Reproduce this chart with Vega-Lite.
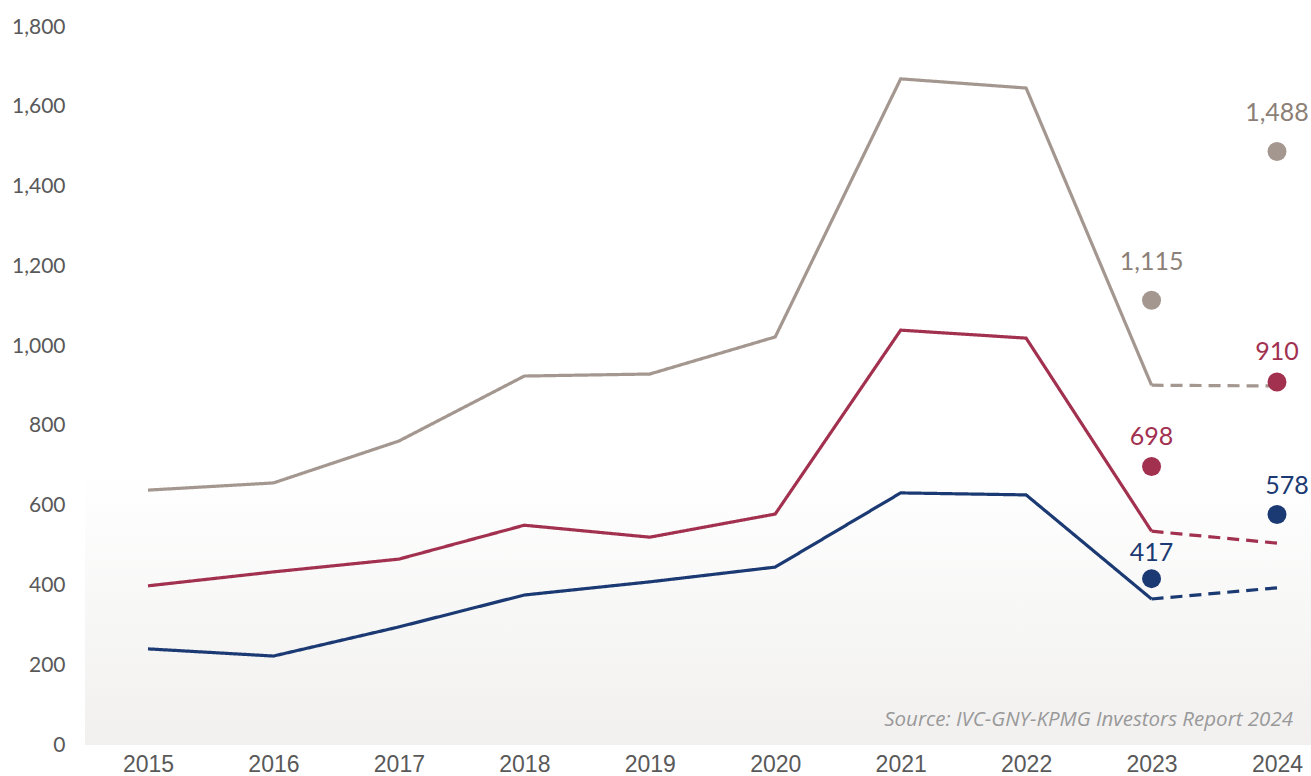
{
  "$schema": "https://vega.github.io/schema/vega-lite/v6.json",
  "width": 1226,
  "height": 718,
  "autosize": "none",
  "padding": {"left": 85, "top": 27, "right": 0, "bottom": 31},
  "background": "#ffffff",
  "config": {
    "view": {"stroke": null, "fill": {"gradient": "linear", "x1": 0, "y1": 0, "x2": 0, "y2": 1, "stops": [{"offset": 0, "color": "#ffffff"}, {"offset": 0.62, "color": "#ffffff"}, {"offset": 1, "color": "#f1f0ef"}]}},
    "axis": {"grid": false, "domain": false, "ticks": false}
  },
  "datasets": {
    "lines": [
      {"series": "total", "year": "2015", "value": 639, "seg": "actual"},
      {"series": "total", "year": "2016", "value": 657, "seg": "actual"},
      {"series": "total", "year": "2017", "value": 762, "seg": "actual"},
      {"series": "total", "year": "2018", "value": 925, "seg": "actual"},
      {"series": "total", "year": "2019", "value": 930, "seg": "actual"},
      {"series": "total", "year": "2020", "value": 1023, "seg": "actual"},
      {"series": "total", "year": "2021", "value": 1670, "seg": "actual"},
      {"series": "total", "year": "2022", "value": 1647, "seg": "actual"},
      {"series": "total", "year": "2023", "value": 902, "seg": "actual"},
      {"series": "total", "year": "2023", "value": 902, "seg": "forecast"},
      {"series": "total", "year": "2024", "value": 900, "seg": "forecast"},
      {"series": "mid", "year": "2015", "value": 399, "seg": "actual"},
      {"series": "mid", "year": "2016", "value": 434, "seg": "actual"},
      {"series": "mid", "year": "2017", "value": 466, "seg": "actual"},
      {"series": "mid", "year": "2018", "value": 551, "seg": "actual"},
      {"series": "mid", "year": "2019", "value": 521, "seg": "actual"},
      {"series": "mid", "year": "2020", "value": 579, "seg": "actual"},
      {"series": "mid", "year": "2021", "value": 1040, "seg": "actual"},
      {"series": "mid", "year": "2022", "value": 1020, "seg": "actual"},
      {"series": "mid", "year": "2023", "value": 536, "seg": "actual"},
      {"series": "mid", "year": "2023", "value": 536, "seg": "forecast"},
      {"series": "mid", "year": "2024", "value": 506, "seg": "forecast"},
      {"series": "low", "year": "2015", "value": 241, "seg": "actual"},
      {"series": "low", "year": "2016", "value": 223, "seg": "actual"},
      {"series": "low", "year": "2017", "value": 296, "seg": "actual"},
      {"series": "low", "year": "2018", "value": 376, "seg": "actual"},
      {"series": "low", "year": "2019", "value": 409, "seg": "actual"},
      {"series": "low", "year": "2020", "value": 446, "seg": "actual"},
      {"series": "low", "year": "2021", "value": 632, "seg": "actual"},
      {"series": "low", "year": "2022", "value": 627, "seg": "actual"},
      {"series": "low", "year": "2023", "value": 366, "seg": "actual"},
      {"series": "low", "year": "2023", "value": 366, "seg": "forecast"},
      {"series": "low", "year": "2024", "value": 394, "seg": "forecast"}
    ],
    "points": [
      {"series": "total", "year": "2023", "value": 1115, "label": "1,115"},
      {"series": "total", "year": "2024", "value": 1488, "label": "1,488"},
      {"series": "mid", "year": "2023", "value": 698, "label": "698"},
      {"series": "mid", "year": "2024", "value": 910, "label": "910"},
      {"series": "low", "year": "2023", "value": 417, "label": "417"},
      {"series": "low", "year": "2024", "value": 578, "label": "578"}
    ],
    "source": [
      {"year": "2024", "value": 63, "label": "Source: IVC-GNY-KPMG Investors Report 2024"}
    ]
  },
  "encoding": {
    "x": {
      "field": "year", "type": "ordinal",
      "scale": {"type": "point", "domain": ["2015","2016","2017","2018","2019","2020","2021","2022","2023","2024"], "range": [63, 1192], "padding": 0},
      "axis": {"title": null, "labelAngle": 0, "labelFont": "Liberation Sans", "labelFontSize": 23, "labelColor": "#595959", "labelPadding": 8}
    },
    "y": {
      "field": "value", "type": "quantitative",
      "scale": {"domain": [0, 1800], "nice": false, "zero": true},
      "axis": {"title": null, "values": [0,200,400,600,800,1000,1200,1400,1600,1800], "format": ",d", "labelFont": "Lato", "labelFontSize": 21, "labelColor": "#595959", "labelPadding": 20}
    }
  },
  "layer": [
    {
      "data": {"name": "lines"},
      "mark": {"type": "line", "strokeWidth": 3.2},
      "encoding": {
        "color": {"field": "series", "type": "nominal", "scale": {"domain": ["total","mid","low"], "range": ["#a3978f","#a2304f","#1b3972"]}, "legend": null},
        "strokeDash": {"field": "seg", "type": "nominal", "scale": {"domain": ["actual","forecast"], "range": [[1,0],[12,7]]}, "legend": null},
        "detail": {"field": "seg"}
      }
    },
    {
      "data": {"name": "points"},
      "mark": {"type": "circle", "size": 360, "opacity": 1},
      "encoding": {
        "color": {"field": "series", "type": "nominal", "scale": {"domain": ["total","mid","low"], "range": ["#a3978f","#a2304f","#1b3972"]}, "legend": null}
      }
    },
    {
      "data": {"name": "points"},
      "transform": [{"filter": "datum.series === 'total'"}],
      "mark": {"type": "text", "font": "Lato", "fontSize": 25, "dy": -38, "baseline": "middle", "align": "center", "color": "#8c7f77"},
      "encoding": {"text": {"field": "label"}}
    },
    {
      "data": {"name": "points"},
      "transform": [{"filter": "datum.series === 'mid'"}],
      "mark": {"type": "text", "font": "Lato", "fontSize": 25, "dy": -30, "baseline": "middle", "align": "center", "color": "#a2304f"},
      "encoding": {"text": {"field": "label"}}
    },
    {
      "data": {"name": "points"},
      "transform": [{"filter": "datum.series === 'low' && datum.year === '2023'"}],
      "mark": {"type": "text", "font": "Lato", "fontSize": 25, "dy": -26, "baseline": "middle", "align": "center", "color": "#1b3972"},
      "encoding": {"text": {"field": "label"}}
    },
    {
      "data": {"name": "points"},
      "transform": [{"filter": "datum.series === 'low' && datum.year === '2024'"}],
      "mark": {"type": "text", "font": "Lato", "fontSize": 25, "dy": -28, "dx": 10, "baseline": "middle", "align": "center", "color": "#1b3972"},
      "encoding": {"text": {"field": "label"}}
    },
    {
      "data": {"name": "source"},
      "mark": {"type": "text", "font": "Open Sans", "fontStyle": "italic", "fontSize": 20.5, "align": "right", "baseline": "middle", "dx": 16, "color": "#999999"},
      "encoding": {"text": {"field": "label"}}
    }
  ]
}
